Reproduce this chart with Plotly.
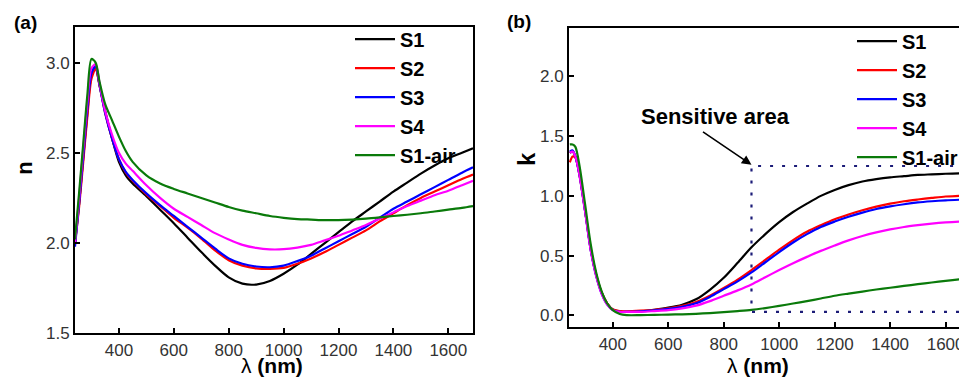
import plotly.graph_objects as go

# ---------------- data ----------------
series_names = ["S1", "S2", "S3", "S4", "S1-air"]
series_colors = ["#000000", "#ff0000", "#0000ff", "#ff00ff", "#0a7a0a"]

# panel (a): refractive index n
wl_n = [240, 255, 270, 285, 300, 315, 330, 350, 375, 400, 425, 450, 500, 550, 600, 650, 700, 750,
        800, 850, 900, 950, 1000, 1050, 1100, 1150, 1200, 1250, 1300, 1350, 1400, 1450, 1500,
        1550, 1600, 1650, 1690]
n_S1 = [2.00, 2.22, 2.47, 2.72, 2.93, 2.97, 2.87, 2.73, 2.58, 2.45, 2.375, 2.33, 2.26, 2.185, 2.11,
        2.03, 1.95, 1.875, 1.81, 1.775, 1.77, 1.79, 1.83, 1.88, 1.94, 2.00, 2.06, 2.12, 2.175, 2.23,
        2.285, 2.335, 2.385, 2.43, 2.47, 2.50, 2.525]
n_S2 = [2.00, 2.20, 2.45, 2.70, 2.91, 2.965, 2.87, 2.72, 2.58, 2.465, 2.39, 2.345, 2.27, 2.205, 2.14,
        2.085, 2.025, 1.96, 1.905, 1.875, 1.86, 1.857, 1.862, 1.885, 1.915, 1.95, 1.99, 2.03, 2.07,
        2.12, 2.165, 2.21, 2.25, 2.285, 2.32, 2.355, 2.38]
n_S3 = [1.98, 2.22, 2.48, 2.74, 2.94, 2.98, 2.87, 2.72, 2.58, 2.465, 2.395, 2.35, 2.275, 2.21, 2.15,
        2.09, 2.03, 1.97, 1.915, 1.885, 1.87, 1.866, 1.875, 1.90, 1.93, 1.97, 2.01, 2.05, 2.09,
        2.14, 2.19, 2.23, 2.27, 2.31, 2.35, 2.39, 2.42]
n_S4 = [2.00, 2.25, 2.52, 2.78, 2.97, 2.99, 2.88, 2.73, 2.60, 2.50, 2.44, 2.40, 2.32, 2.25, 2.19,
        2.145, 2.10, 2.055, 2.02, 1.99, 1.973, 1.965, 1.966, 1.975, 1.99, 2.015, 2.04, 2.07, 2.10,
        2.135, 2.17, 2.205, 2.235, 2.265, 2.29, 2.32, 2.345]
n_S1air = [2.02, 2.28, 2.55, 2.82, 3.02, 3.00, 2.89, 2.77, 2.68, 2.59, 2.51, 2.45, 2.375, 2.33, 2.30,
           2.275, 2.25, 2.225, 2.20, 2.18, 2.165, 2.15, 2.14, 2.133, 2.13, 2.127, 2.127, 2.13,
           2.135, 2.142, 2.15, 2.157, 2.165, 2.175, 2.185, 2.195, 2.205]

# panel (b): extinction coefficient k
wl_k = [245, 255, 265, 280, 300, 320, 340, 360, 380, 400, 425, 450, 500, 550, 600, 650, 700, 750,
        800, 850, 900, 950, 1000, 1050, 1100, 1150, 1200, 1250, 1300, 1350, 1400, 1450, 1500,
        1550, 1600, 1650, 1700]
k_S1 = [1.36, 1.37, 1.33, 1.18, 0.88, 0.56, 0.34, 0.19, 0.10, 0.05, 0.032, 0.030, 0.035, 0.048,
        0.065, 0.09, 0.135, 0.215, 0.315, 0.44, 0.57, 0.68, 0.78, 0.865, 0.935, 1.0, 1.05, 1.09,
        1.12, 1.14, 1.155, 1.165, 1.175, 1.18, 1.185, 1.188, 1.19]
k_S2 = [1.28, 1.33, 1.32, 1.17, 0.88, 0.56, 0.34, 0.19, 0.10, 0.05, 0.036, 0.035, 0.040, 0.048,
        0.060, 0.080, 0.112, 0.165, 0.23, 0.30, 0.38, 0.465, 0.55, 0.63, 0.70, 0.755, 0.805,
        0.845, 0.88, 0.91, 0.935, 0.955, 0.97, 0.983, 0.995, 1.0, 1.005]
k_S3 = [1.37, 1.38, 1.33, 1.17, 0.87, 0.55, 0.33, 0.18, 0.09, 0.045, 0.030, 0.030, 0.035, 0.043,
        0.055, 0.073, 0.102, 0.155, 0.22, 0.285, 0.36, 0.445, 0.53, 0.61, 0.68, 0.74, 0.785,
        0.825, 0.86, 0.89, 0.912, 0.93, 0.945, 0.955, 0.963, 0.968, 0.972]
k_S4 = [1.36, 1.37, 1.33, 1.17, 0.87, 0.55, 0.33, 0.18, 0.09, 0.045, 0.030, 0.030, 0.030, 0.037,
        0.045, 0.060, 0.082, 0.12, 0.165, 0.21, 0.26, 0.32, 0.38, 0.437, 0.49, 0.54, 0.585, 0.628,
        0.665, 0.695, 0.72, 0.74, 0.755, 0.768, 0.778, 0.785, 0.79]
k_S1air = [1.43, 1.43, 1.41, 1.25, 0.93, 0.60, 0.36, 0.20, 0.10, 0.045, 0.012, 0.003, 0.003, 0.005,
           0.007, 0.010, 0.014, 0.020, 0.028, 0.037, 0.047, 0.062, 0.080, 0.100, 0.120, 0.142,
           0.165, 0.183, 0.200, 0.217, 0.232, 0.247, 0.262, 0.276, 0.290, 0.302, 0.312]

n_values = [n_S1, n_S2, n_S3, n_S4, n_S1air]
k_values = [k_S1, k_S2, k_S3, k_S4, k_S1air]

n_ticks = [1.5, 2.0, 2.5, 3.0]
k_ticks = [0.0, 0.5, 1.0, 1.5, 2.0]
wl_ticks = [400, 600, 800, 1000, 1200, 1400, 1600]

# "Sensitive area" box (data units)
sens_left = 900
sens_right = 1800
sens_top = 1.25
sens_bottom = 0.03
sens_label = "Sensitive area"

FONT = "Liberation Sans, Arial, sans-serif"
W, H = 967, 383
OFF = 8  # page body margin shifts the figure by this many pixels


def px(x):
    return (x - OFF) / W


def py(y):
    return 1 - (y - OFF) / H


fig = go.Figure()

for name, color, vals in zip(series_names, series_colors, n_values):
    fig.add_trace(go.Scatter(x=wl_n, y=vals, mode="lines", name=name,
                             line=dict(color=color, width=2.2, shape="spline", smoothing=0.8),
                             xaxis="x", yaxis="y", legend="legend"))

for name, color, vals in zip(series_names, series_colors, k_values):
    fig.add_trace(go.Scatter(x=wl_k, y=vals, mode="lines", name=name,
                             line=dict(color=color, width=2.2, shape="spline", smoothing=0.8),
                             xaxis="x2", yaxis="y2", legend="legend2"))

# dotted sensitive-area box
fig.add_trace(go.Scatter(x=[sens_right, sens_left, sens_left, sens_right],
                         y=[sens_top, sens_top, sens_bottom, sens_bottom],
                         mode="lines", showlegend=False, hoverinfo="skip",
                         line=dict(color="#1c1c78", width=2.2, dash="3px,9px"),
                         xaxis="x2", yaxis="y2"))

axis_common = dict(showgrid=False, zeroline=False, showline=True, linecolor="black",
                   linewidth=2, ticks="inside", ticklen=5, tickwidth=1.5, tickcolor="black",
                   tickfont=dict(family=FONT, size=17, color="#333333"))

legend_font = dict(family=FONT, size=20, color="black", weight="bold")
fig.update_layout(
    width=W, height=H,
    margin=dict(l=0, r=0, t=0, b=0),
    paper_bgcolor="white", plot_bgcolor="white",
    font=dict(family=FONT, color="black"),
    xaxis=dict(domain=[px(75), px(473)], range=[240, 1690], tickvals=wl_ticks,
               anchor="y", mirror=True, **axis_common),
    yaxis=dict(domain=[py(342), py(27)], range=[1.5, 3.2], tickvals=n_ticks,
               tickformat=".1f", anchor="x", mirror=True, **axis_common),
    xaxis2=dict(domain=[px(569), 1.0], range=[242, 1706], tickvals=wl_ticks,
                anchor="y2", mirror=True, **axis_common),
    yaxis2=dict(domain=[py(336), py(29)], range=[-0.1, 2.4], tickvals=k_ticks,
                tickformat=".1f", anchor="x2", mirror=False, **axis_common),
    legend=dict(x=px(350), y=py(20), xanchor="left", yanchor="top",
                bgcolor="rgba(0,0,0,0)", borderwidth=0, itemwidth=40,
                font=legend_font, tracegroupgap=0),
    legend2=dict(x=px(852), y=py(22), xanchor="left", yanchor="top",
                 bgcolor="rgba(0,0,0,0)", borderwidth=0, itemwidth=40,
                 font=legend_font, tracegroupgap=0),
    showlegend=True,
)


def label(text, x, y, size, angle=0):
    return dict(text=text, x=px(x), y=py(y), xref="paper", yref="paper",
                xanchor="center", yanchor="middle", showarrow=False, textangle=angle,
                font=dict(family=FONT, size=size, color="black"))


ann = [
    label("λ <b>(nm)</b>", 272, 375, 21),
    label("λ <b>(nm)</b>", 758, 375, 21),
    label("<b>n</b>", 25, 173, 22, -90),
    label("<b>k</b>", 527, 163, 24, -90),
    label("<b>(a)</b>", 25, 23, 19),
    label("<b>(b)</b>", 519, 22, 19),
]
# sensitive area label + arrow
ann.append(dict(text="<b>" + sens_label + "</b>", x=770, y=1.66, xref="x2", yref="y2",
                xanchor="center", yanchor="middle", showarrow=False,
                font=dict(family=FONT, size=22, color="black")))
ann.append(dict(text="", x=sens_left, y=sens_top + 0.01, xref="x2", yref="y2",
                showarrow=True, ax=-50, ay=-34, arrowhead=2, arrowsize=1.2,
                arrowwidth=1.6, arrowcolor="black"))
fig.update_layout(annotations=ann)

fig.write_html("out.html")
